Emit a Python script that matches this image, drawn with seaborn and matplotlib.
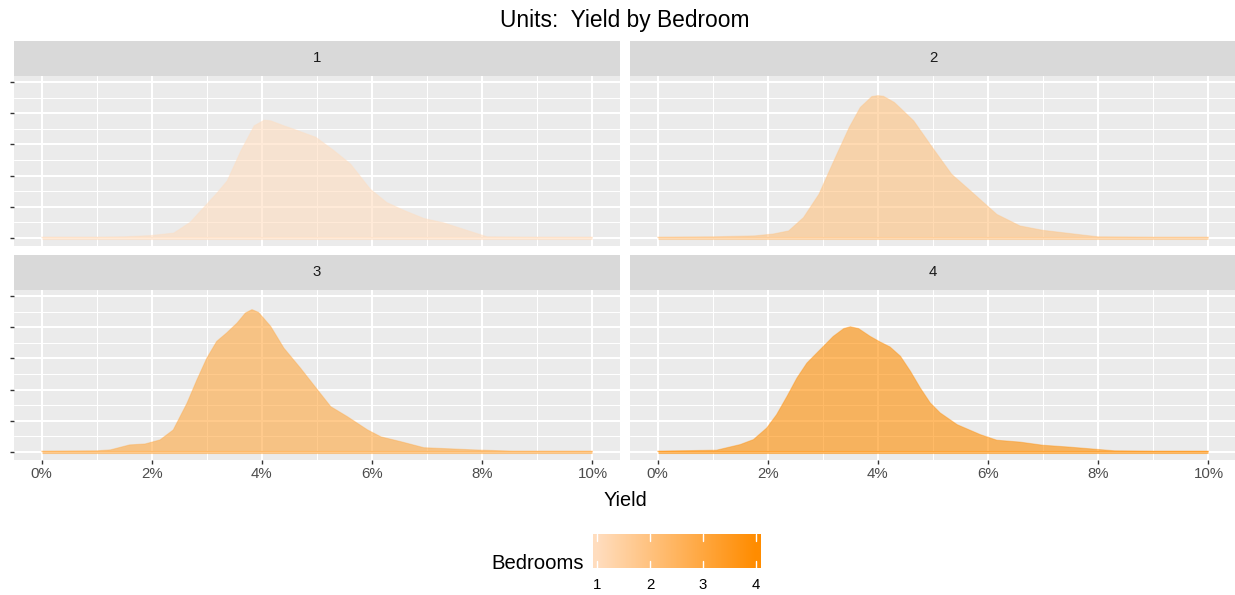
import numpy as np
import pandas as pd
import matplotlib
matplotlib.use("Agg")
import matplotlib.pyplot as plt
import seaborn as sns
from matplotlib.colors import LinearSegmentedColormap

# Density curves (yield in %, height in y-tick units)
bedrooms = [1, 2, 3, 4]

yield_1 = [0, 1.0, 1.5, 1.98, 2.4, 2.7, 3.01, 3.19, 3.37, 3.62, 3.86, 4.04, 4.16, 4.40,
           4.58, 4.98, 5.31, 5.61, 5.97, 6.27, 6.58, 6.94, 7.30, 7.72, 8.09, 9.0, 10.0]
dens_1 = [0.02, 0.02, 0.03, 0.07, 0.15, 0.50, 1.10, 1.45, 1.83, 2.80, 3.60, 3.78, 3.76, 3.60,
          3.49, 3.23, 2.80, 2.37, 1.56, 1.13, 0.88, 0.62, 0.48, 0.24, 0.03, 0.02, 0.02]

yield_2 = [0, 1.0, 1.76, 2.1, 2.38, 2.65, 2.93, 3.20, 3.48, 3.68, 3.89, 4.00, 4.10, 4.30,
           4.65, 4.99, 5.34, 5.68, 6.16, 6.58, 6.99, 7.61, 8.0, 9.0, 10.0]
dens_2 = [0.02, 0.03, 0.06, 0.12, 0.22, 0.65, 1.40, 2.47, 3.55, 4.19, 4.54, 4.57, 4.55, 4.35,
          3.76, 2.90, 2.04, 1.51, 0.75, 0.38, 0.24, 0.11, 0.03, 0.02, 0.02]

yield_3 = [0, 1.0, 1.25, 1.60, 1.88, 2.15, 2.39, 2.64, 2.82, 3.0, 3.18, 3.36, 3.55, 3.70,
           3.82, 3.94, 4.16, 4.40, 4.70, 5.01, 5.25, 5.55, 5.92, 6.16, 6.53, 6.94, 7.85,
           8.54, 10.0]
dens_3 = [0.02, 0.03, 0.06, 0.22, 0.25, 0.38, 0.70, 1.56, 2.31, 3.01, 3.55, 3.82, 4.14, 4.46,
          4.57, 4.48, 4.03, 3.33, 2.69, 1.99, 1.45, 1.13, 0.70, 0.48, 0.32, 0.13, 0.06,
          0.02, 0.02]

yield_4 = [0, 1.07, 1.50, 1.74, 1.98, 2.16, 2.35, 2.53, 2.71, 2.95, 3.19, 3.38, 3.50, 3.65,
           3.86, 4.04, 4.22, 4.41, 4.59, 4.77, 4.95, 5.13, 5.44, 5.86, 6.16, 6.58, 6.99,
           7.47, 8.30, 9.0, 10.0]
dens_4 = [0.02, 0.05, 0.23, 0.39, 0.76, 1.19, 1.78, 2.37, 2.85, 3.28, 3.71, 3.96, 4.02, 3.96,
          3.71, 3.53, 3.37, 3.07, 2.59, 2.05, 1.57, 1.25, 0.87, 0.55, 0.37, 0.31, 0.21,
          0.15, 0.03, 0.02, 0.02]

x_ticks = [0, 2, 4, 6, 8, 10]
x_labels = ["0%", "2%", "4%", "6%", "8%", "10%"]

frames = []
for b, xs, ys in zip(bedrooms, [yield_1, yield_2, yield_3, yield_4],
                     [dens_1, dens_2, dens_3, dens_4]):
    frames.append(pd.DataFrame({"Bedrooms": b, "Yield": xs, "density": ys}))
df = pd.concat(frames, ignore_index=True)

sns.set_theme(style="darkgrid", rc={"axes.facecolor": "#EBEBEB", "grid.color": "white"})
plt.rcParams["font.family"] = ["Liberation Sans", "DejaVu Sans"]

W, H = 1235, 595
fig = plt.figure(figsize=(W / 100, H / 100), dpi=100)
fig.patch.set_facecolor("white")

cmap = LinearSegmentedColormap.from_list("beds", ["#FFDDBE", "#FF8C00"])


def box(l, t, r, b):
    return [l / W, 1 - b / H, (r - l) / W, (b - t) / H]


panels = {1: (14, 76, 620, 245.5), 2: (630, 76, 1236, 245.5),
          3: (14, 290, 620, 459.5), 4: (630, 290, 1236, 459.5)}

for b in bedrooms:
    l, t, r, bt = panels[b]
    ax = fig.add_axes(box(l, t, r, bt))
    sub = df[df["Bedrooms"] == b]
    col = cmap((b - 1) / 3)
    ax.fill_between(sub["Yield"], 0, sub["density"], facecolor=col, edgecolor="none",
                    alpha=0.6, zorder=3)
    sns.lineplot(data=sub, x="Yield", y="density", color=col, alpha=0.35, lw=0.8,
                 estimator=None, sort=False, ax=ax, zorder=4)
    ax.hlines(0, 0, 10, color=col, alpha=0.6, lw=2.2, zorder=4)
    ax.set_xlim(-0.5, 10.5)
    ax.set_ylim(-0.25, 5.2)
    ax.set_xticks(x_ticks)
    ax.set_xticks([1, 3, 5, 7, 9], minor=True)
    ax.set_yticks([0, 1, 2, 3, 4, 5])
    ax.set_yticks([0.5, 1.5, 2.5, 3.5, 4.5], minor=True)
    ax.grid(which="major", color="white", lw=1.5)
    ax.grid(which="minor", color="white", lw=0.75)
    ax.set_axisbelow(True)
    for s in ax.spines.values():
        s.set_visible(False)
    ax.set_yticklabels([])
    ax.set_xlabel("")
    ax.set_ylabel("")
    ax.tick_params(which="minor", length=0)
    ax.tick_params(axis="y", left=(b in (1, 3)), length=3.2, width=1.0, color="#333333")
    if b in (3, 4):
        ax.set_xticklabels(x_labels)
        ax.tick_params(axis="x", bottom=True, length=3.2, width=1.0, color="#333333",
                       labelsize=10.8, labelcolor="#4D4D4D", pad=2.5)
    else:
        ax.set_xticklabels([])
        ax.tick_params(axis="x", bottom=False)

    # facet strip
    sax = fig.add_axes(box(l, t - 35, r, t))
    sax.set_facecolor("#D9D9D9")
    sax.set_xticks([])
    sax.set_yticks([])
    sax.grid(False)
    for s in sax.spines.values():
        s.set_visible(False)
    sax.text(0.5, 0.5, str(b), ha="center", va="center", fontsize=10.8, color="#1A1A1A",
             transform=sax.transAxes)

fig.text(625 / W, 1 - 27.5 / H, "Units:  Yield by Bedroom", ha="center", va="baseline",
         fontsize=16.4, color="black")
fig.text(625 / W, 1 - 506 / H, "Yield", ha="center", va="baseline", fontsize=14.3,
         color="black")

# colour bar legend
cax = fig.add_axes(box(593.3, 534.3, 761, 567.7))
grad = np.linspace(0.93, 4.09, 300)
cax.imshow(np.clip((grad[None, :] - 1) / 3, 0, 1), cmap=cmap, aspect="auto",
           extent=(0.93, 4.09, 0, 1), vmin=0, vmax=1)
cax.set_xlim(0.93, 4.09)
cax.set_ylim(0, 1)
cax.grid(False)
for s in cax.spines.values():
    s.set_visible(False)
cax.set_xticks([])
cax.set_yticks([])
for v in bedrooms:
    cax.plot([v, v], [0, 0.2], color="white", lw=1)
    cax.plot([v, v], [0.8, 1], color="white", lw=1)
    fig.text((597 + (v - 1) * 53) / W, 1 - 589 / H, str(v), ha="center", va="baseline",
             fontsize=10.8, color="black")
fig.text(584 / W, 1 - 569 / H, "Bedrooms", ha="right", va="baseline", fontsize=14.6,
         color="black")

fig.savefig("out.png", dpi=100, facecolor="white")
